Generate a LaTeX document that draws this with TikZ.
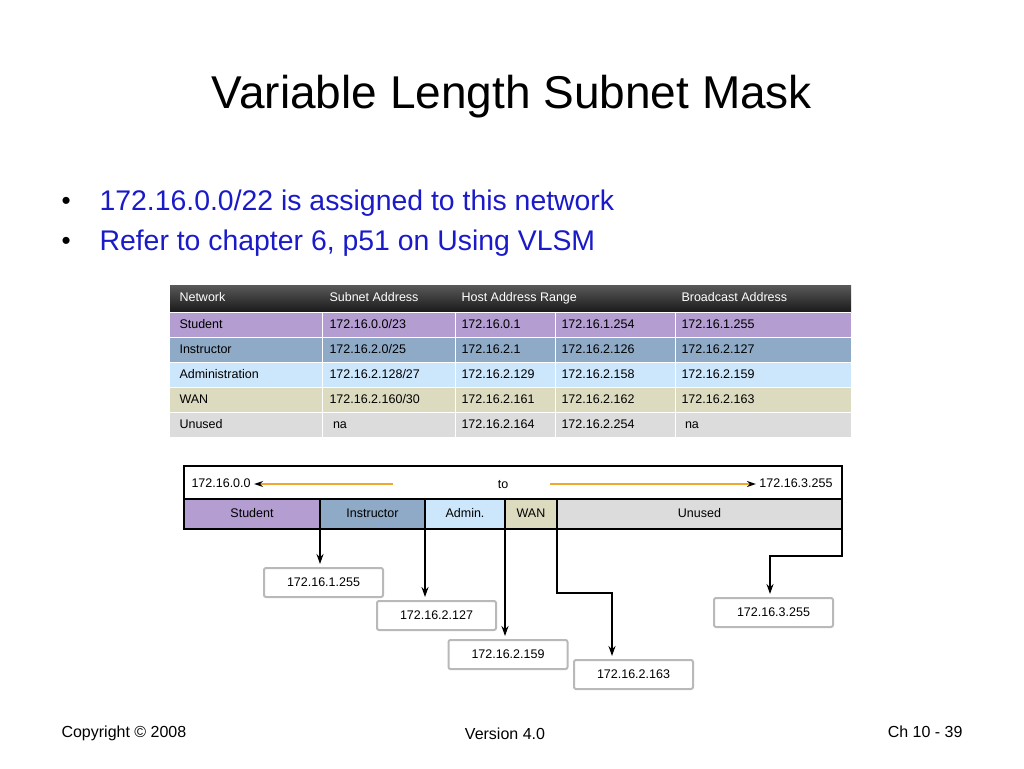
\documentclass[tikz,border=0pt]{standalone}
\usepackage{fontspec}
\setmainfont{Liberation Sans}
\usetikzlibrary{arrows.meta,positioning}
\definecolor{stud}{HTML}{B39DD1}
\definecolor{inst}{HTML}{8FAAC6}
\definecolor{admn}{HTML}{CCE6FB}
\definecolor{wanc}{HTML}{DCDBC0}
\definecolor{unus}{HTML}{DCDCDC}
\definecolor{blu}{HTML}{1A1AC8}
\definecolor{orng}{HTML}{F0A830}
\tikzset{
  cell/.style={anchor=west,text height=9pt,text depth=2pt,font=\fontsize{12.5}{12.5}\selectfont},
  seg/.style={draw=black,line width=2pt,outer sep=0pt,minimum height=30pt,anchor=north west,text height=9pt,text depth=2pt,font=\fontsize{12.5}{12.5}\selectfont},
  addr/.style={draw=gray!55,line width=2pt,rounded corners=2pt,minimum width=119pt,minimum height=29pt,text height=9pt,text depth=2pt,font=\fontsize{12.5}{12.5}\selectfont},
  link/.style={line width=2pt,-{Stealth[length=10pt,width=7pt]}}
}
\begin{document}
\begin{tikzpicture}[x=1pt,y=-1pt]
\useasboundingbox (0,0) rectangle (1024,768);
% title and bullets
\node (title) at (512,97) {\fontsize{46}{46}\selectfont Variable Length Subnet Mask};
\node[anchor=west] at (58,203) {\fontsize{26}{26}\selectfont •};
\node[anchor=west] at (58,243) {\fontsize{26}{26}\selectfont •};
\node[anchor=west,text=blu] (b1) at (96,203) {\fontsize{28.4}{28.4}\selectfont 172.16.0.0/22 is assigned to this network};
\node[anchor=west,text=blu] (b2) at (96,243) {\fontsize{28.4}{28.4}\selectfont Refer to chapter 6, p51 on Using VLSM};
% table
\shade[top color=gray!70!black,bottom color=black!90] (170,285) rectangle (851,312);
\fill[stud] (170,312) rectangle (851,337);
\fill[inst] (170,337) rectangle (851,362);
\fill[admn] (170,362) rectangle (851,387);
\fill[wanc] (170,387) rectangle (851,412);
\fill[unus] (170,412) rectangle (851,437);
\foreach \y in {312,337,362,387,412} \draw[white,line width=1pt] (170,\y) -- (851,\y);
\foreach \x in {322,455,555,675} \draw[white,line width=1pt] (\x,312) -- (\x,437);
\foreach \x/\t in {176/Network,326/Subnet Address,458/Host Address Range,678/Broadcast Address}
  \node[cell,text=white] at (\x,298) {\t};
\foreach \y/\a/\b/\c/\d/\e in {
  325/Student/172.16.0.0\slash 23/172.16.0.1/172.16.1.254/172.16.1.255,
  350/Instructor/172.16.2.0\slash 25/172.16.2.1/172.16.2.126/172.16.2.127,
  375/Administration/172.16.2.128\slash 27/172.16.2.129/172.16.2.158/172.16.2.159,
  400/WAN/172.16.2.160\slash 30/172.16.2.161/172.16.2.162/172.16.2.163,
  425/Unused/\ na/172.16.2.164/172.16.2.254/\ na}{
  \node[cell] at (176,\y) {\a};
  \node[cell] at (326,\y) {\b};
  \node[cell] at (458,\y) {\c};
  \node[cell] at (558,\y) {\d};
  \node[cell] at (678,\y) {\e};
}
% address bar
\draw[line width=2pt] (184,466) rectangle (842,499);
\node[cell] (lo) at (188,484) {172.16.0.0};
\node[cell,anchor=east] (hi) at (836,484) {172.16.3.255};
\node[cell,anchor=center] (to) at (503,485) {to};
\draw[orng,line width=2pt,-{Stealth[length=9pt,width=6pt,black]}] (393,484) -- (lo.east);
\draw[orng,line width=2pt,-{Stealth[length=9pt,width=6pt,black]}] (550,484) -- (hi.west);
\node[seg,fill=stud,minimum width=136pt] (student) at (184,499) {Student};
\node[seg,fill=inst,minimum width=105pt] (instr) at (320,499) {Instructor};
\node[seg,fill=admn,minimum width=80pt] (admin) at (425,499) {Admin.};
\node[seg,fill=wanc,minimum width=52pt] (wan) at (505,499) {WAN};
\node[seg,fill=unus,minimum width=285pt] (unused) at (557,499) {Unused};
% broadcast boxes
\node[addr] (bc1) at (323.5,582.5) {172.16.1.255};
\node[addr] (bc2) at (436.5,615.5) {172.16.2.127};
\node[addr] (bc3) at (508,654.5) {172.16.2.159};
\node[addr] (bc4) at (633.5,674.5) {172.16.2.163};
\node[addr] (bc5) at (773.5,612.5) {172.16.3.255};
\draw[link] (student.south east) -- (320,564);
\draw[link] (instr.south east) -- (425,597);
\draw[link] (admin.south east) -- (505,636);
\draw[link] (wan.south east) -- (557,593) -- (612,593) -- (612,656);
\draw[link] (unused.south east) -- (842,556) -- (770,556) -- (770,594);
% footer
\node[anchor=west,font=\fontsize{16}{16}\selectfont] (copy) at (58,733) {Copyright © 2008};
\node[font=\fontsize{16}{16}\selectfont] (ver) at (505,734) {Version 4.0};
\node[anchor=east,font=\fontsize{16}{16}\selectfont] (page) at (966,732) {Ch 10 - 39};
\end{tikzpicture}
\end{document}
